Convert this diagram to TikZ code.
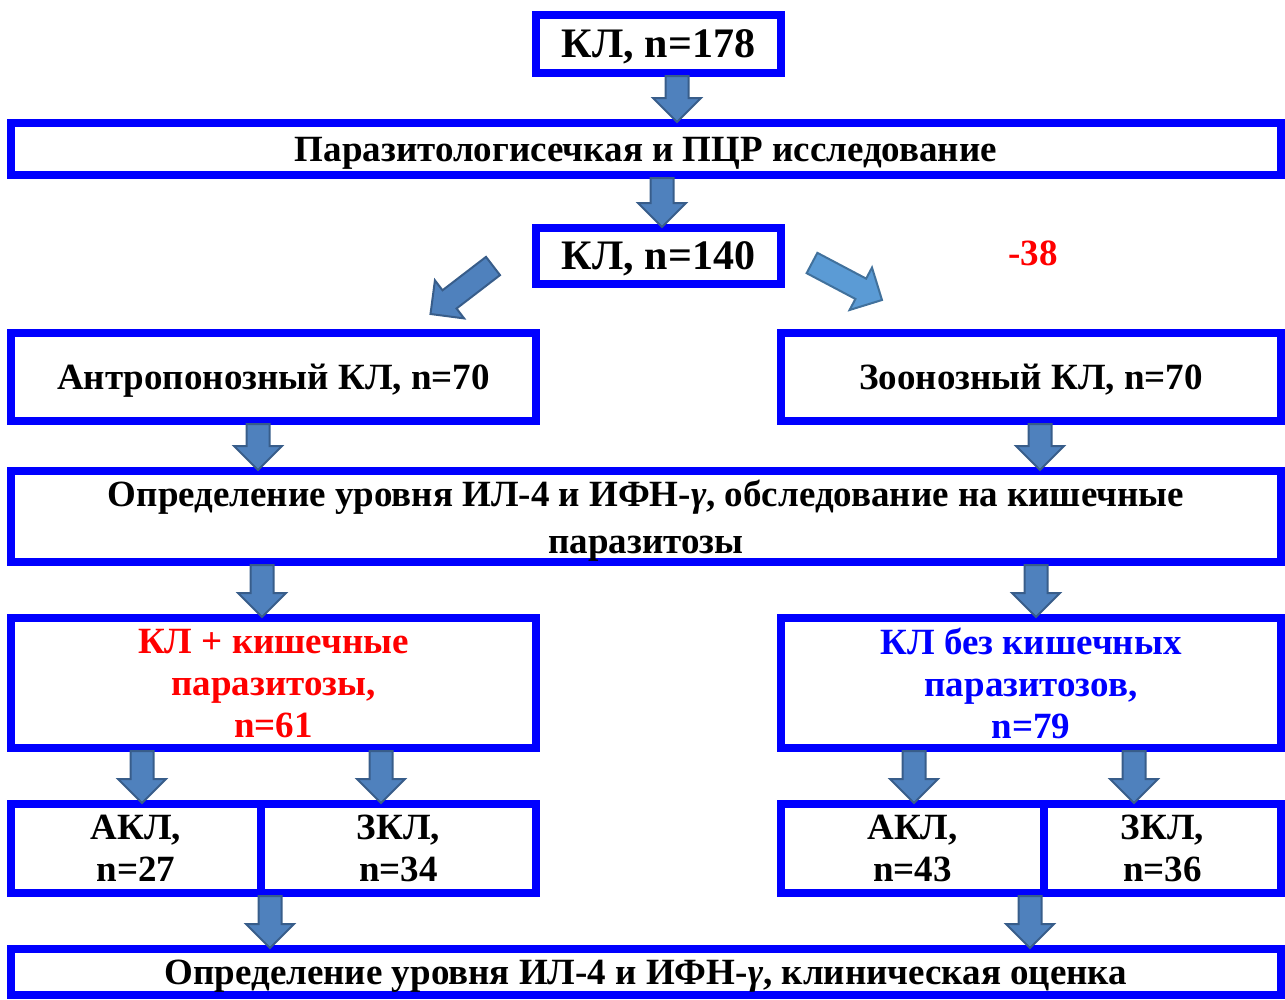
\documentclass[tikz,border=0pt]{standalone}
\usepackage{fontspec}
\setmainfont{Liberation Serif}
\usetikzlibrary{calc}

\begin{document}
\begin{tikzpicture}[x=1pt, y=-1pt,
    box/.style={draw=boxblue, line width=8pt, inner sep=0pt, align=center, text depth=0pt,
      font=\fontsize{37}{42}\selectfont\bfseries},
    bigbox/.style={box, font=\fontsize{42}{50}\selectfont\bfseries},
    barrow/.style={fill=arrowfill, draw=arrowline, line width=2pt},
    lbarrow/.style={fill=lightfill, draw=lightline, line width=2pt}]
    \definecolor{boxblue}{rgb}{0,0,1}
    \definecolor{arrowfill}{HTML}{4F81BD}
    \definecolor{arrowline}{HTML}{385D8A}
    \definecolor{lightfill}{HTML}{5B9BD5}
    \definecolor{lightline}{HTML}{41719C}
    \def\gam{\textit{γ}}
    \def\blockarrow#1#2#3{%
      \coordinate (ba-t) at #2;
      \coordinate (ba-p) at #3;
      \coordinate (ba-n) at ($(ba-p)!24pt!(ba-t)$);
      \draw[#1] ($(ba-t)!11.5pt!90:(ba-p)$) -- ($(ba-n)!11.5pt!90:(ba-p)$)
        -- ($(ba-n)!24pt!90:(ba-p)$) -- (ba-p) -- ($(ba-n)!24pt!-90:(ba-p)$)
        -- ($(ba-n)!11.5pt!-90:(ba-p)$) -- ($(ba-t)!11.5pt!-90:(ba-p)$) -- cycle;}
    \def\vblock#1#2#3{%
      \coordinate (vb-t) at ([shift={(#1,-1)}]#2.south);
      \coordinate (vb-p) at ($(vb-t |- #3.north)+(0,3)$);
      \blockarrow{barrow}{(vb-t)}{(vb-p)}}
    \useasboundingbox (0,0) rectangle (1285,999);
    \node[bigbox, minimum width=245pt, minimum height=58pt] (kl178) at (658.5,44) {КЛ, n=178};
    \node[box, minimum width=1270pt, minimum height=52pt] (pcr) at (646,149) {Паразитологисечкая и ПЦР исследование};
    \node[bigbox, minimum width=245pt, minimum height=56pt] (kl140) at (658.5,256) {КЛ, n=140};
    \node[text=red, font=\fontsize{37}{42}\selectfont\bfseries] (loss) at (1033,253) {-38};
    \node[box, minimum width=525pt, minimum height=88pt] (antro) at (273.5,377) {Антропонозный КЛ, n=70};
    \node[box, minimum width=500pt, minimum height=88pt] (zoo) at (1031,377) {Зоонозный КЛ, n=70};
    \node[box, minimum width=1270pt, minimum height=91pt, font=\fontsize{37}{47}\selectfont\bfseries] (ilA) at (646,516.5)
      {Определение уровня ИЛ-4 и ИФН-\gam, обследование на кишечные\\паразитозы};
    \node[box, minimum width=525pt, minimum height=130pt, text=red] (withp) at (273.5,683) {КЛ + кишечные\\паразитозы,\\n=61};
    \node[box, minimum width=500pt, minimum height=130pt, text=boxblue] (nop) at (1031,683) {КЛ без кишечных\\паразитозов,\\n=79};
    \node[box, minimum width=250pt, minimum height=89pt] (akl1) at (136,848.5) {АКЛ,\\n=27};
    \node[box, minimum width=275pt, minimum height=89pt] (zkl1) at (398.5,848.5) {ЗКЛ,\\n=34};
    \node[box, minimum width=263pt, minimum height=89pt] (akl2) at (912.5,848.5) {АКЛ,\\n=43};
    \node[box, minimum width=237pt, minimum height=89pt] (zkl2) at (1162.5,848.5) {ЗКЛ,\\n=36};
    \node[box, minimum width=1270pt, minimum height=46pt] (ilB) at (646,972) {Определение уровня ИЛ-4 и ИФН-\gam, клиническая оценка};
    \vblock{18.5}{kl178}{pcr}
    \vblock{16}{pcr}{kl140}
    \blockarrow{barrow}{($(kl140.west)+(-39,10)$)}{($(antro.north)+(157,-15)$)}
    \blockarrow{lbarrow}{($(kl140.east)+(27,7)$)}{($(zoo.north)+(-149,-29)$)}
    \vblock{-15.5}{antro}{ilA}
    \vblock{9}{zoo}{ilA}
    \vblock{-384}{ilA}{withp}
    \vblock{390}{ilA}{nop}
    \vblock{-131.5}{withp}{akl1}
    \vblock{107.5}{withp}{zkl1}
    \vblock{-117}{nop}{akl2}
    \vblock{103}{nop}{zkl2}
    \vblock{134}{akl1}{ilB}
    \vblock{117.5}{akl2}{ilB}
\end{tikzpicture}
\end{document}
